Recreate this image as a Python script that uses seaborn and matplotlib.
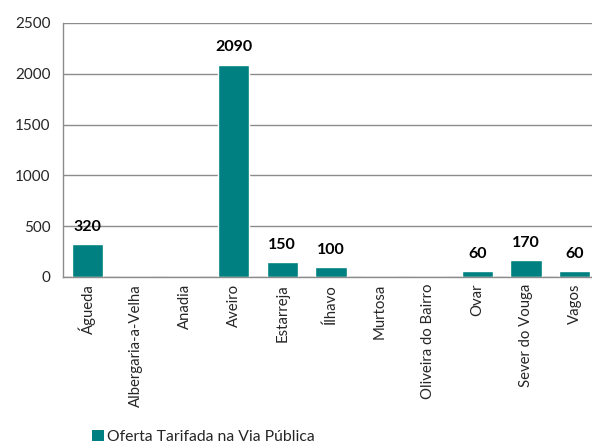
import numpy as np
import pandas as pd
import matplotlib
matplotlib.use("Agg")
import matplotlib.pyplot as plt
from matplotlib.patches import Patch
import seaborn as sns

# Data
concelhos = ["Águeda", "Albergaria-a-Velha", "Anadia", "Aveiro", "Estarreja",
             "Ílhavo", "Murtosa", "Oliveira do Bairro", "Ovar", "Sever do Vouga", "Vagos"]
oferta = [320, 0, 0, 2090, 150, 100, 0, 0, 60, 170, 60]
rotulos = ["320", "", "", "2090", "150", "100", "", "", "60", "170", "60"]
serie = "Oferta Tarifada na Via Pública"

df = pd.DataFrame({"concelho": concelhos, "valor": oferta})

sns.set_theme(style="white")
plt.rcParams["font.family"] = ["Lato", "DejaVu Sans"]

cor = "#008080"
fig = plt.figure(figsize=(5.92, 4.48), dpi=100)
ax = fig.add_axes([63 / 592, 1 - 277 / 448, 536 / 592, (277 - 23) / 448])

sns.barplot(data=df, x="concelho", y="valor", color=cor, saturation=1,
            width=0.64, ax=ax)

ax.set_ylim(0, 2500)
ax.set_xlim(-0.5, len(concelhos) - 0.5)
ax.set_yticks(np.arange(0, 2501, 500))
ax.yaxis.grid(True, color="#8c8c8c", linewidth=1)
ax.set_axisbelow(True)

for s in ["top", "right"]:
    ax.spines[s].set_visible(False)
for s in ["left", "bottom"]:
    ax.spines[s].set_color("#8c8c8c")
    ax.spines[s].set_linewidth(1)

# category labels at centres, ticks at boundaries
ax.set_xticks(np.arange(len(concelhos)))
ax.set_xticklabels(concelhos, rotation=90, fontsize=10.7)
ax.set_xticks(np.arange(len(concelhos) + 1) - 0.5, minor=True)
ax.tick_params(axis="x", which="major", length=0, pad=5)
ax.tick_params(axis="x", which="minor", length=5, color="#8c8c8c", width=1, direction="out")
ax.tick_params(axis="y", length=5, color="#8c8c8c", width=1, direction="out",
               labelsize=11, pad=4)
ax.set_xlabel("")
ax.set_ylabel("")

for i, (v, t) in enumerate(zip(oferta, rotulos)):
    if t:
        ax.text(i, v + 100, t, ha="center", va="bottom", fontsize=11.5,
                fontweight="bold", color="black")

fig.legend(handles=[Patch(facecolor=cor, edgecolor="none", label=serie)],
           loc="lower left", bbox_to_anchor=(86 / 592, -2 / 448), frameon=False,
           fontsize=11.3, handlelength=0.75, handleheight=0.75, handletextpad=0.2,
           borderaxespad=0)

fig.savefig("out.png", dpi=100)
